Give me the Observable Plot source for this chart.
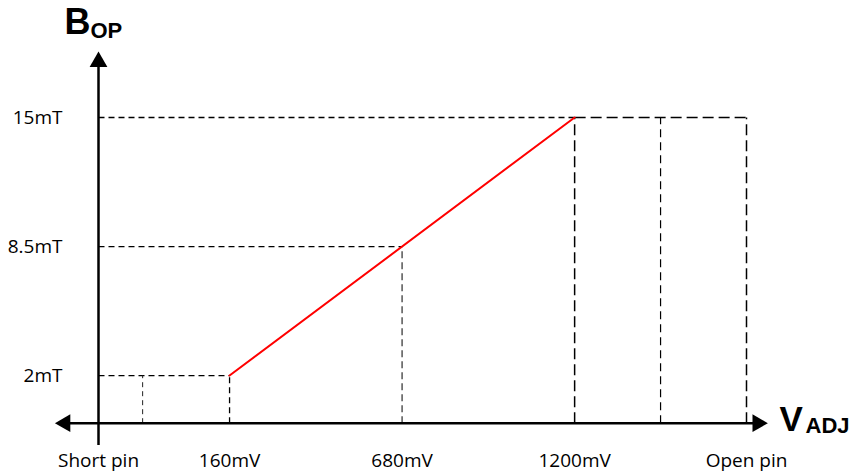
<!DOCTYPE html>
<html><head><meta charset="utf-8">
<script src="https://cdn.jsdelivr.net/npm/d3@7"></script>
<script src="https://cdn.jsdelivr.net/npm/@observablehq/plot@0.6"></script>
<style>body{margin:0;background:#fff} #chart{width:865px;height:475px}</style>
</head><body><div id="chart"></div>
<script>
// ---- data ----
const xTickLabels = ["Short pin", "160mV", "680mV", "1200mV", "Open pin"];
const xTickValues = [-235, 160, 680, 1200, 1718];   // V_ADJ axis position (mV scale)
const yTickLabels = ["2mT", "8.5mT", "15mT"];
const yTickValues = [2, 8.5, 15];                    // B_OP (mT)
const vadj = [160, 1200];                            // red characteristic: V_ADJ (mV)
const bop = [2, 15];                                 //                      B_OP (mT)
const shortPinMid = -102;                            // dashed mark between Short pin and 160mV
const openPinMid = 1459;                             // dashed mark between 1200mV and Open pin
const xExtent = [-365, 1781];                        // V_ADJ axis arrow extent
const yExtent = [-1.5, 18.3];                        // B_OP axis arrow extent
const yBase = -0.4;                                  // level of the V_ADJ axis

// ---- derived tables ----
const line = vadj.map((v, i) => ({x: v, y: bop[i]}));
const [xShort, x160, x680, x1200, xOpen] = xTickValues;
const [y2, y85, y15] = yTickValues;
const seg = (x1, y1, x2, y2, style) => ({x1, y1, x2, y2, style});
const guides = [
  seg(xShort, y2, x160, y2, "a"),
  seg(shortPinMid, yBase, shortPinMid, y2, "thin"),
  seg(x160, yBase, x160, y2, "a"),
  seg(xShort, y85, x680, y85, "a"),
  seg(x680, yBase, x680, y85, "gray"),
  seg(xShort, y15, x1200, y15, "a"),
  seg(x1200, y15, xOpen, y15, "long"),
  seg(x1200, yBase, x1200, y15, "long"),
  seg(openPinMid, yBase, openPinMid, y15, "mid"),
  seg(xOpen, yBase, xOpen, y15, "long")
];
const styles = {
  a: {stroke: "#000", strokeWidth: 1.3, strokeDasharray: "6,4"},
  thin: {stroke: "#222", strokeWidth: 1, strokeDasharray: "5,4"},
  gray: {stroke: "#555", strokeWidth: 1.5, strokeDasharray: "7,4"},
  long: {stroke: "#000", strokeWidth: 1.5, strokeDasharray: "11,5"},
  mid: {stroke: "#000", strokeWidth: 1.2, strokeDasharray: "8,5"}
};
const guideMarks = Object.entries(styles).map(([k, s]) =>
  Plot.link(guides.filter(d => d.style === k), {x1: "x1", y1: "y1", x2: "x2", y2: "y2", ...s}));

const arrows = [
  {x: xExtent[0], y: yBase, rotate: -90, dx: 9.8, dy: 0},
  {x: xExtent[1], y: yBase, rotate: 90, dx: -9.8, dy: 0},
  {x: xShort, y: yExtent[1], rotate: 0, dx: 0, dy: 9.8}
];
const titleFont = "'Liberation Sans', Arial, sans-serif";

const plot = Plot.plot({
  width: 865, height: 475,
  marginLeft: 98, marginRight: 119, marginTop: 117, marginBottom: 52.3,
  x: {type: "linear", domain: [xShort, xOpen]},
  y: {type: "linear", domain: [yBase, y15]},
  style: {fontFamily: "'Open Sans', sans-serif", fontSize: "19px", color: "#000", background: "#fff", overflow: "visible"},
  marks: [
    ...guideMarks,
    Plot.line(line, {x: "x", y: "y", stroke: "#ff0000", strokeWidth: 2}),
    Plot.link([{x1: xExtent[0] + 30, x2: xExtent[1] - 30, y: yBase}], {x1: "x1", x2: "x2", y1: "y", y2: "y", stroke: "#000", strokeWidth: 2.5}),
    Plot.link([{x: xShort, y1: yExtent[0], y2: yExtent[1] - 0.6}], {x1: "x", x2: "x", y1: "y1", y2: "y2", stroke: "#000", strokeWidth: 2.5}),
    ...arrows.map(a => Plot.dot([a], {x: "x", y: "y", symbol: "triangle", r: 6.6, rotate: a.rotate, dx: a.dx, dy: a.dy, fill: "#000", stroke: "none"})),
    Plot.axisX(xTickValues, {tickSize: 0, tickPadding: 30, label: null, fontSize: 19,
      tickFormat: d => xTickLabels[xTickValues.indexOf(d)]}),
    Plot.axisY(yTickValues, {anchor: "left", tickSize: 0, tickPadding: 36, label: null, fontSize: 19,
      tickFormat: d => yTickLabels[yTickValues.indexOf(d)]}),
    Plot.text(["B"], {text: d => d, frameAnchor: "top-left", dx: -34, dy: -84, textAnchor: "start", lineAnchor: "bottom", fontFamily: titleFont, fontWeight: "bold", fontSize: 36}),
    Plot.text(["OP"], {text: d => d, frameAnchor: "top-left", dx: -8, dy: -80, textAnchor: "start", lineAnchor: "bottom", fontFamily: titleFont, fontWeight: "bold", fontSize: 22}),
    Plot.text(["V"], {text: d => d, frameAnchor: "bottom-right", dx: 33, dy: 7.3, textAnchor: "start", lineAnchor: "bottom", fontFamily: titleFont, fontWeight: "bold", fontSize: 35}),
    Plot.text(["ADJ"], {text: d => d, frameAnchor: "bottom-right", dx: 59, dy: 9.5, textAnchor: "start", lineAnchor: "bottom", fontFamily: titleFont, fontWeight: "bold", fontSize: 22})
  ]
});
document.getElementById("chart").appendChild(plot);
</script>
</body></html>
